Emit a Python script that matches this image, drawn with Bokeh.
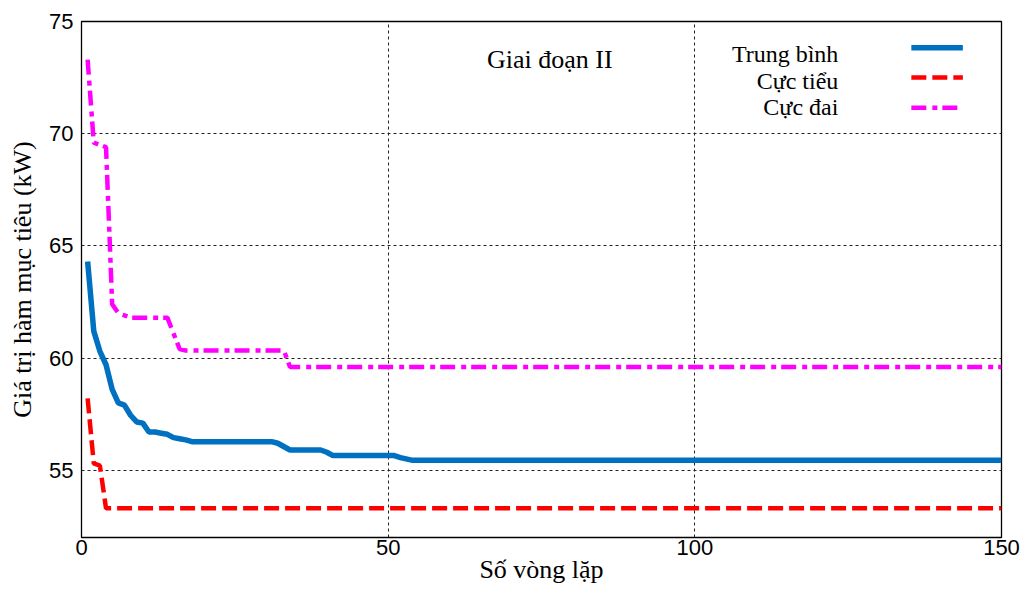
from bokeh.plotting import figure
from bokeh.models import Range1d, Label
from bokeh.embed import file_html
from bokeh.resources import INLINE

# ---- data ----
iter_avg = [1, 2, 3, 4, 5, 6, 7, 8, 9, 10, 11, 12, 13, 14, 15, 16, 17, 18,
            31, 32, 34, 39, 40, 41, 51, 52, 54, 150]
val_avg = [64.3, 61.2, 60.3, 59.7, 58.6, 58.0, 57.9, 57.45, 57.15, 57.1, 56.7, 56.7,
           56.65, 56.6, 56.45, 56.4, 56.35, 56.27, 56.27, 56.2, 55.9, 55.9, 55.8,
           55.65, 55.65, 55.56, 55.44, 55.44]

iter_min = [1, 2, 3, 4, 150]
val_min = [58.2, 55.3, 55.2, 53.3, 53.3]

iter_max = [1, 2, 3, 4, 5, 6, 7, 8, 14, 16, 17, 33, 34, 150]
val_max = [73.3, 69.6, 69.5, 69.4, 62.4, 62.0, 61.9, 61.8, 61.8, 60.4, 60.33,
           60.33, 59.6, 59.6]

series_names = ["Trung bình", "Cực tiểu", "Cực đai"]
x_ticks = [0, 50, 100, 150]
y_ticks = [55, 60, 65, 70, 75]
stage_label = "Giai đoạn II"
x_title = "Số vòng lặp"
y_title = "Giá trị hàm mục tiêu (kW)"

SERIF = "Liberation Serif"
NARROW = "'Liberation Sans Narrow', 'Arial Narrow', 'Liberation Sans'"

p = figure(width=1024, height=590, output_backend="svg", toolbar_location=None,
           x_range=Range1d(0, 150), y_range=Range1d(52, 75),
           min_border_left=81, min_border_right=23, min_border_top=21,
           min_border_bottom=53)

p.background_fill_color = "white"
p.border_fill_color = "white"
p.outline_line_color = "black"
p.outline_line_width = 1.3

for ax in (p.xaxis[0], p.yaxis[0]):
    ax.axis_line_color = None
    ax.major_tick_in = 0
    ax.major_tick_out = 0
    ax.minor_tick_in = 0
    ax.minor_tick_out = 0
    ax.major_label_text_font = NARROW
    ax.major_label_text_font_size = "22px"
    ax.major_label_text_color = "black"
    ax.axis_label_text_font = SERIF
    ax.axis_label_text_font_size = "26px"
    ax.axis_label_text_font_style = "normal"
    ax.axis_label_text_color = "black"

p.xaxis.ticker = x_ticks
p.yaxis.ticker = y_ticks
p.xaxis.axis_label = x_title
p.yaxis.axis_label = y_title
p.xaxis.major_label_standoff = 2
p.xaxis.axis_label_standoff = -3
p.yaxis.major_label_standoff = 8
p.yaxis.axis_label_standoff = 9

for g in (p.xgrid[0], p.ygrid[0]):
    g.grid_line_color = "#222222"
    g.grid_line_dash = "3 3"
    g.grid_line_width = 1

# ---- series ----
blue, red, mag = "#0070C0", "#FF0000", "#FF00FF"
p.line(iter_avg, val_avg, line_width=5.5, line_color=blue)
p.line(iter_min, val_min, line_width=4.5, line_color=red, line_dash="15 6")
p.line(iter_max, val_max, line_width=4.5, line_color=mag, line_dash="15 6 5 5")

# ---- manual legend (text left of sample, right-aligned) ----
leg_text_x = 123.4
leg_text_y = [73.55, 72.36, 71.18]
leg_line_y = [73.83, 72.50, 71.16]
styles = [(blue, 5.5, "solid"), (red, 4.5, "15 6"), (mag, 4.5, "15 6 5 5")]
for name, ty, ly, (c, w, d) in zip(series_names, leg_text_y, leg_line_y, styles):
    p.add_layout(Label(x=leg_text_x, y=ty, text=name, text_align="right",
                       text_baseline="alphabetic", text_font=SERIF,
                       text_font_size="24px", text_color="black"))
    p.segment(x0=[135.3], y0=[ly], x1=[143.7], y1=[ly], line_color=c,
              line_width=w, line_dash=d)

p.add_layout(Label(x=66.1, y=73.31, text=stage_label, text_align="left",
                   text_baseline="alphabetic", text_font=SERIF,
                   text_font_size="26px", text_color="black"))

open("out.html", "w").write(file_html(p, INLINE))
